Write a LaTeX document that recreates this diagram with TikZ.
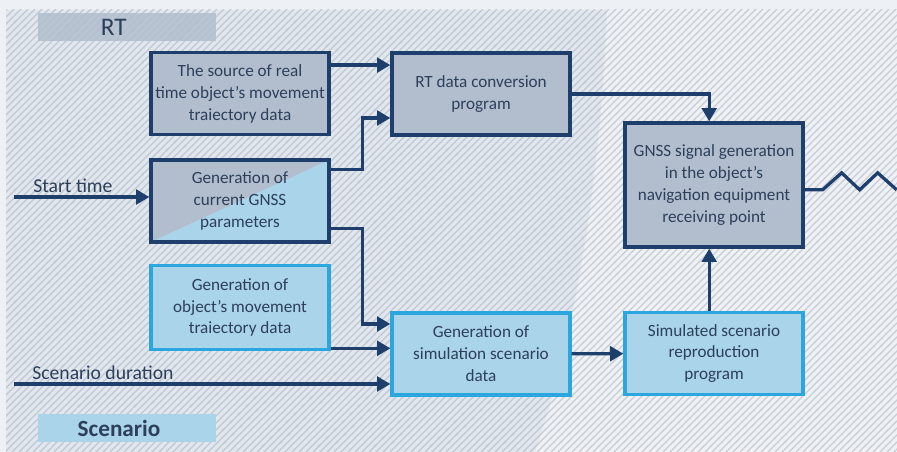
\documentclass[tikz,border=0pt]{standalone}
\usepackage{fontspec}
\setmainfont{Carlito}
\usetikzlibrary{arrows.meta}

\definecolor{navy}{HTML}{1E3E6C}
\definecolor{greyfill}{HTML}{B2BECE}
\definecolor{skyfill}{HTML}{A9D4EA}
\definecolor{skyline}{HTML}{2BA6DE}
\definecolor{inktext}{HTML}{2D3F5B}
\definecolor{bgleft}{HTML}{E2E7EE}
\definecolor{bgright}{HTML}{EFF1F4}
\definecolor{bgtop}{HTML}{EDF0F4}
\definecolor{hatch}{HTML}{8E9CB1}

\tikzset{
  block/.style={rectangle, line width=2.3pt, minimum width=4.45cm,
    minimum height=2.05cm, align=center, text=inktext, inner sep=2pt,
    font=\fontsize{12.2}{15.6}\selectfont},
  rtbox/.style={block, draw=navy, fill=greyfill},
  scnbox/.style={block, draw=skyline, fill=skyfill},
  flow/.style={draw=navy, line width=2.3pt, -{Triangle[length=9.5pt,width=10.5pt]}},
  tag/.style={rectangle, minimum width=4.47cm, minimum height=0.72cm, inner sep=0pt},
  inlabel/.style={text=inktext, font=\fontsize{14}{16}\selectfont, inner sep=0pt}
}

\begin{document}
\begin{tikzpicture}[x=0.025cm, y=-0.025cm, line join=miter]

\useasboundingbox (0,0) rectangle (897,452);

% Background
\fill[bgtop] (0,0) rectangle (897,452);
\fill[bgright] (6,10) rectangle (897,452);
\fill[bgleft] (6,10) -- (607,10) .. controls (600,200) and (570,350) .. (535,452) -- (6,452) -- cycle;
\begin{scope}
  \clip (6,10) rectangle (897,452);
  \foreach \h in {-450,-443,...,900}
    \draw[hatch, opacity=0.42, line width=0.8pt] (\h,452) -- ++(452,-452);
\end{scope}

% Group tags
\node[tag, fill=greyfill, opacity=0.85,
  label={[inlabel, xshift=-0.33cm, font=\fontsize{18}{20}\selectfont]center:RT}] (rttag) at (127,27) {};
\node[tag, fill=skyfill,
  label={[inlabel, xshift=-0.2cm, font=\bfseries\fontsize{16.5}{18}\selectfont]center:Scenario}] (scntag) at (127,428) {};

% Blocks
\node[rtbox] (src) at (240,93.5) {The source of real\\time object’s movement\\traiectory data};
\node[rtbox] (rtconv) at (481,94) {RT data conversion\\program};
\node[rtbox, path picture={
    \fill[skyfill] (path picture bounding box.south west) -- (path picture bounding box.north east)
      -- (path picture bounding box.south east) -- cycle;}] (params) at (240,201)
  {Generation of\\current GNSS\\parameters};
\node[rtbox, minimum height=3.1cm] (signal) at (714,185)
  {GNSS signal generation\\in the object’s\\navigation equipment\\receiving point};
\node[scnbox, minimum height=2.1cm] (traj) at (240,307.5) {Generation of\\object’s movement\\traiectory data};
\node[scnbox] (simgen) at (481,354) {Generation of\\simulation scenario\\data};
\node[scnbox] (repro) at (714,353.5) {Simulated scenario\\reproduction\\program};

% Inputs
\coordinate (st) at (14,197);
\coordinate (sd) at (14,384);
\node[inlabel, anchor=south west] (stlabel) at (33,193) {Start time};
\node[inlabel, anchor=south west] (sdlabel) at (32,380) {Scenario duration};

% Arrows
\draw[flow] ([yshift=0.71cm]src.east) -- ([yshift=0.71cm]src.east -| rtconv.west);
\draw[flow] ([yshift=0.78cm]params.east) -- ++(32,0) |- ([yshift=-0.6cm]rtconv.west);
\draw[flow] (rtconv.east) -| ([xshift=-0.12cm]signal.north);
\draw[flow] ([yshift=-0.68cm]params.east) -- ++(32,0) |- ([yshift=0.75cm]simgen.west);
\draw[flow] ([yshift=0.07cm]traj.south east) -- ([yshift=0.07cm]traj.south east -| simgen.west);
\draw[flow] (st) -- (st -| params.west);
\draw[flow] (sd) -- (sd -| simgen.west);
\draw[flow] (simgen) -- (repro);
\draw[flow] ([xshift=-0.12cm]repro.north) -- ([xshift=-0.12cm]signal.south);

% Radiated signal
\draw[navy, line width=2.3pt] ([yshift=-0.12cm]signal.east) -- ++(18,0) -- ++(19,-17)
  -- ++(18,17) -- ++(18,-17) -- ++(19,17);

\end{tikzpicture}
\end{document}
